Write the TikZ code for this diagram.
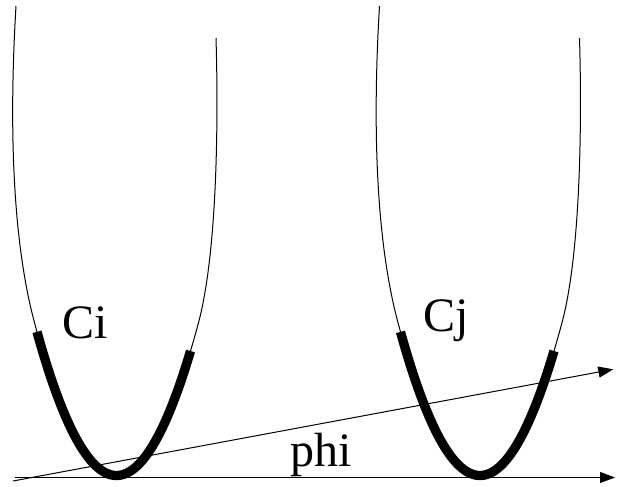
\documentclass[tikz,border=0pt]{standalone}
\usepackage{fontspec}
\setmainfont{Liberation Serif}
\usetikzlibrary{arrows.meta}
\begin{document}
\begin{tikzpicture}[x=1pt,y=-1pt,
  thinline/.style={line width=1pt},
  thickline/.style={line width=9.3pt},
  axisline/.style={line width=1pt,-{Triangle[length=15pt,width=11pt]}},
  lbl/.style={font=\fontsize{48}{56}\selectfont,inner sep=0pt,anchor=base}]
\useasboundingbox (0,0) rectangle (625,487);
\foreach \dx in {0,363.5} {
  \begin{scope}[xshift=\dx pt]
    \draw[thinline] (16,6) .. controls (9.4,116) and (11.2,235.8) .. (34.5,322.7)
      -- plot[domain=-82:82,samples=90] ({116.5+\x},{475.5-\x*\x/44})
      .. controls (216.6,255.1) and (218.7,128) .. (216,38);
    \draw[thickline] plot[domain=-79.5:74,samples=90] ({116.5+\x},{475.5-\x*\x/44});
  \end{scope}
}
\node[lbl] (ci) at (85,338) {Ci};
\node[lbl] (cj) at (446,331.7) {Cj};
\node[lbl] (phi) at (321.5,466) {phi};
\coordinate (o1) at (15,477.5);
\coordinate (e1) at (615,477.5);
\coordinate (o2) at (13,481);
\coordinate (e2) at (613.3,369.3);
\draw[axisline] (o1) -- (e1);
\draw[axisline] (o2) -- (e2);
\end{tikzpicture}
\end{document}
